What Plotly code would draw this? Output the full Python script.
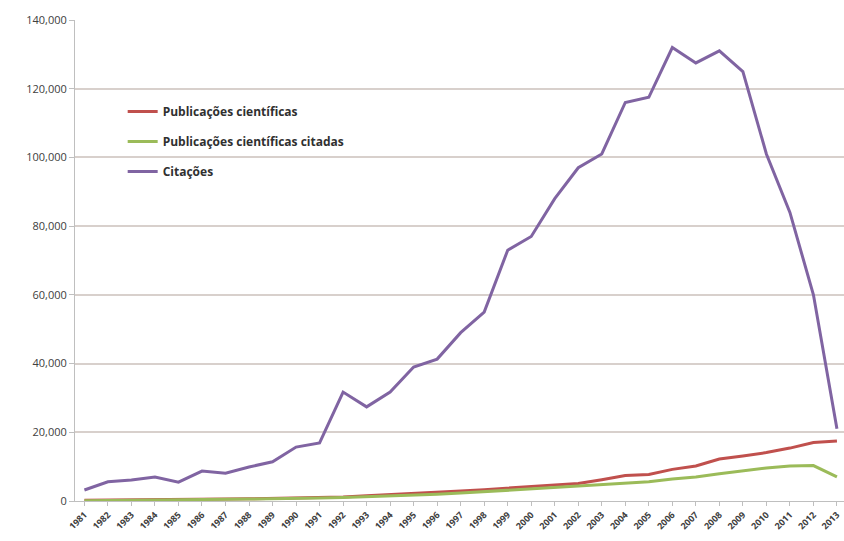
import plotly.graph_objects as go

years = [str(y) for y in range(1981, 2014)]

publicacoes = [200, 300, 400, 450, 500, 550, 600, 650, 750, 900, 1000, 1200, 1500, 1800, 2100,
               2500, 2900, 3300, 3700, 4100, 4600, 5100, 6200, 7400, 7700, 9200, 10200, 12200,
               13100, 14100, 15400, 17000, 17500]
citadas = [100, 200, 300, 350, 400, 450, 500, 550, 600, 750, 850, 1000, 1200, 1400, 1700,
           2000, 2300, 2700, 3100, 3500, 3900, 4300, 4800, 5100, 5600, 6400, 7000, 7900,
           8800, 9600, 10200, 10300, 7000]
citacoes = [3200, 5600, 6100, 7000, 5500, 8700, 8100, 9900, 11400, 15700, 16900, 31700, 27400,
            31700, 39000, 41300, 49000, 55000, 73000, 77000, 88000, 97000, 101000, 116000,
            117500, 132000, 127500, 131000, 125000, 101000, 84000, 60000, 21000]

names = ["Publicações científicas", "Publicações científicas citadas", "Citações"]
colors = ["#C0504D", "#9BBB59", "#8064A2"]
series = [publicacoes, citadas, citacoes]

fig = go.Figure()
for i, (n, c, s) in enumerate(zip(names, colors, series)):
    fig.add_trace(go.Scatter(x=years, y=s, name=n, mode="lines",
                             line=dict(color=c, width=3), legendgroup=str(i)))

fig.update_layout(
    width=844, height=541,
    margin=dict(l=75, r=0, t=20, b=40),
    paper_bgcolor="white", plot_bgcolor="white",
    font=dict(family="Open Sans", color="#404040"),
    showlegend=True,
    legend=dict(x=0.062, y=0.84, xanchor="left", yanchor="top",
                bgcolor="rgba(0,0,0,0)", traceorder="grouped", tracegroupgap=11,
                font=dict(size=12, color="#303030", weight="bold"), itemwidth=30),
    xaxis=dict(type="category", range=[-0.4, 32.3], tickangle=-45,
               tickfont=dict(size=9, color="#404040", weight="bold"), showgrid=False,
               showline=True, linecolor="#bfbfbf", ticks="outside", ticklen=4,
               tickcolor="#bfbfbf"),
    yaxis=dict(range=[0, 140000], tickvals=list(range(0, 140001, 20000)),
               tickformat=",", tickfont=dict(size=11, color="#404040"),
               showgrid=True, gridcolor="#d8d0cc", gridwidth=1.5,
               showline=True, linecolor="#bfbfbf", ticks="outside", ticklen=5,
               tickcolor="#bfbfbf", zeroline=False),
)

fig.write_html("out.html", config={"displayModeBar": False},
               post_script="document.body.style.margin='0px';")
